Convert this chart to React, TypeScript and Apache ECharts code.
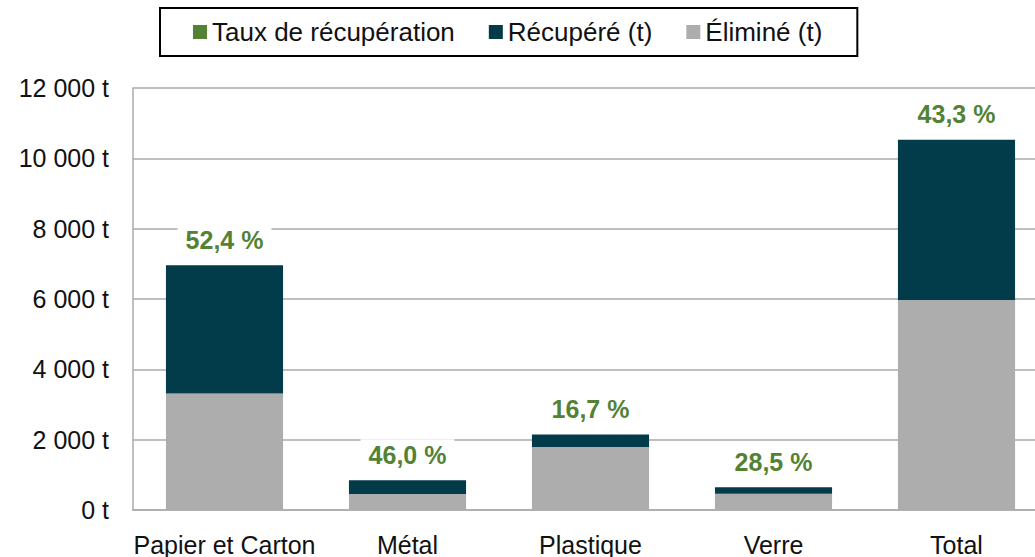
import React, { useEffect, useRef } from "react";
import * as echarts from "echarts";

const categories = ["Papier et Carton", "Métal", "Plastique", "Verre", "Total"];
const elimine = [3310, 458, 1790, 465, 5970];
const recupere = [3650, 390, 360, 185, 4560];
const tauxRecup = [52.4, 46.0, 16.7, 28.5, 43.3];
const yTicks = { min: 0, max: 12000, interval: 2000 };

const FONT = "'Liberation Sans', Arial, sans-serif";
const GREEN = "#548235";
const DARK = "#023B4A";
const GRAY = "#ADADAD";
const LINE = "#ABABAB";

const fmtT = (v: number) => String(v).replace(/\B(?=(\d{3})+(?!\d))/g, " ") + " t";
const fmtPct = (v: number) => v.toFixed(1).replace(".", ",") + " %";

export default function App() {
  const ref = useRef<HTMLDivElement>(null);
  useEffect(() => {
    if (!ref.current) return;
    const chart = echarts.init(ref.current, undefined, { renderer: "svg" });
    chart.setOption({
      animation: false,
      backgroundColor: "#ffffff",
      textStyle: { fontFamily: FONT },
      legend: {
        left: 160,
        top: 8,
        padding: [11, 35, 11, 33],
        borderColor: "#000000",
        borderWidth: 2,
        itemGap: 34,
        itemWidth: 14,
        itemHeight: 14,
        icon: "rect",
        textStyle: { fontFamily: FONT, fontSize: 26, color: "#111111" },
        data: [
          { name: "Taux de récupération", itemStyle: { color: GREEN, opacity: 1 } },
          { name: "Récupéré (t)", itemStyle: { color: DARK } },
          { name: "Éliminé (t)", itemStyle: { color: GRAY } },
        ],
      },
      grid: { left: 133, right: 0, top: 88, bottom: 45, containLabel: false },
      xAxis: {
        type: "category",
        data: categories,
        axisLine: { show: true, lineStyle: { color: LINE, width: 1.5 } },
        axisTick: { show: false },
        axisLabel: { fontFamily: FONT, fontSize: 25, color: "#111111", margin: 22, interval: 0 },
      },
      yAxis: [
        {
          type: "value",
          min: yTicks.min,
          max: yTicks.max,
          interval: yTicks.interval,
          axisLine: { show: true, lineStyle: { color: LINE, width: 1.5 } },
          axisTick: { show: false },
          splitLine: { show: true, lineStyle: { color: LINE, width: 1.5 } },
          axisLabel: {
            fontFamily: FONT,
            fontSize: 25,
            color: "#111111",
            margin: 24,
            formatter: (v: number) => fmtT(v),
          },
        },
        { type: "value", show: false, min: 0, max: 100 },
      ],
      series: [
        {
          name: "Éliminé (t)",
          type: "bar",
          stack: "total",
          barWidth: "64%",
          data: elimine,
          itemStyle: { color: GRAY },
        },
        {
          name: "Récupéré (t)",
          type: "bar",
          stack: "total",
          barWidth: "64%",
          data: recupere,
          itemStyle: { color: DARK },
          label: {
            show: true,
            position: "top",
            distance: 10,
            fontFamily: FONT,
            fontSize: 25,
            fontWeight: "bold",
            color: GREEN,
            backgroundColor: "#ffffff",
            padding: [3, 8],
            formatter: (p: any) => fmtPct(tauxRecup[p.dataIndex]),
          },
        },
        {
          name: "Taux de récupération",
          type: "line",
          yAxisIndex: 1,
          data: tauxRecup,
          symbol: "none",
          silent: true,
          itemStyle: { color: GREEN },
          lineStyle: { opacity: 0 },
        },
      ],
    });
    return () => chart.dispose();
  }, []);
  return (
    <div
      style={{
        position: "fixed",
        left: 0,
        top: 0,
        width: 1035,
        height: 557,
        overflow: "hidden",
        background: "#fff",
      }}
    >
      <div ref={ref} style={{ width: 1048, height: 557 }} />
    </div>
  );
}
